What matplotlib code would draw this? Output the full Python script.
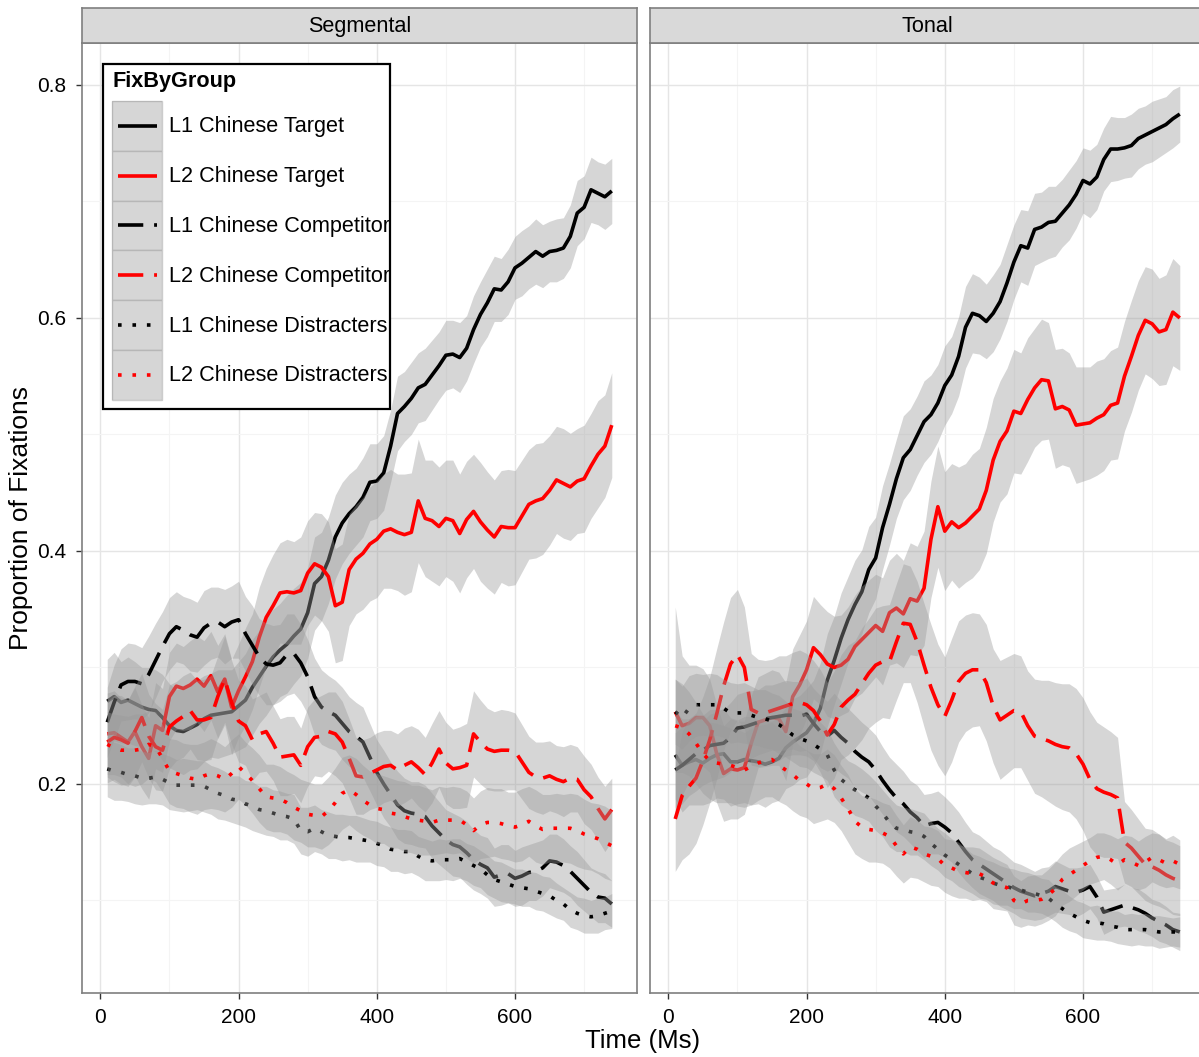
import matplotlib
matplotlib.use("Agg")
import matplotlib.pyplot as plt
from matplotlib.patches import Rectangle
from matplotlib.lines import Line2D
from matplotlib.ticker import FixedLocator

plt.rcParams['font.family'] = ['Liberation Sans', 'DejaVu Sans']

# ---------------------------------------------------------------- data
time_ms = list(range(10, 741, 10))

group_labels = ["L1 Chinese Target", "L2 Chinese Target",
                "L1 Chinese Competitor", "L2 Chinese Competitor",
                "L1 Chinese Distracters", "L2 Chinese Distracters"]
panel_names = ["Segmental", "Tonal"]

# Segmental condition: mean proportion of fixations
seg_l1_target = [.271, .275, .270, .272, .269, .266, .264, .263, .257, .250,
                 .246, .245, .248, .251, .256, .259, .260, .261, .262, .267,
                 .272, .283, .292, .301, .309, .315, .320, .327, .333, .347,
                 .372, .378, .392, .412, .424, .432, .438, .446, .459, .460,
                 .467, .490, .518, .524, .531, .540, .543, .551, .559, .568,
                 .569, .566, .574, .590, .603, .613, .625, .624, .631, .643,
                 .647, .652, .657, .653, .657, .658, .660, .670, .690, .695,
                 .710, .707, .704, .709]
seg_l2_target = [.243, .244, .240, .236, .245, .232, .222, .250, .246, .275,
                 .284, .282, .285, .290, .284, .293, .279, .290, .266, .280,
                 .292, .305, .326, .343, .353, .364, .365, .364, .366, .381,
                 .389, .386, .378, .353, .356, .384, .393, .398, .406, .410,
                 .417, .419, .416, .414, .416, .443, .428, .426, .421, .428,
                 .426, .415, .427, .434, .425, .418, .412, .421, .420, .420,
                 .430, .440, .443, .445, .452, .461, .458, .455, .460, .462,
                 .473, .483, .490, .508]
seg_l1_comp = [.253, .270, .285, .288, .288, .286, .294, .306, .318, .329,
               .335, .332, .328, .326, .334, .338, .339, .335, .339, .341,
               .329, .319, .309, .303, .302, .304, .311, .312, .304, .292,
               .275, .266, .262, .259, .252, .245, .241, .236, .223, .210,
               .200, .191, .182, .177, .175, .174, .172, .164, .158, .152,
               .148, .146, .141, .135, .131, .128, .120, .122, .123, .119,
               .121, .124, .125, .128, .134, .133, .130, .125, .119, .113,
               .107, .103, .102, .097]
seg_l2_comp = [.236, .240, .238, .235, .245, .257, .241, .232, .229, .249,
               .254, .258, .263, .255, .255, .257, .275, .290, .270, .254,
               .250, .238, .243, .245, .235, .223, .224, .225, .216, .232,
               .240, .241, .245, .243, .236, .222, .207, .206, .209, .212,
               .215, .216, .212, .216, .219, .214, .208, .218, .230, .218,
               .213, .214, .216, .243, .236, .230, .228, .229, .229, .228,
               .219, .210, .206, .205, .207, .204, .202, .205, .204, .195,
               .189, .179, .170, .178]
seg_l1_dis = [.213, .211, .210, .208, .207, .205, .205, .206, .204, .201,
              .199, .199, .199, .199, .198, .195, .192, .190, .187, .186,
              .183, .181, .178, .177, .175, .173, .172, .170, .160, .159,
              .162, .159, .156, .155, .154, .154, .153, .152, .151, .149,
              .147, .144, .143, .142, .142, .138, .135, .134, .135, .135,
              .135, .136, .133, .130, .127, .122, .118, .116, .114, .112,
              .111, .110, .108, .106, .104, .100, .097, .092, .089, .087,
              .086, .087, .089, .091]
seg_l2_dis = [.234, .231, .229, .229, .229, .230, .234, .232, .222, .211,
              .209, .207, .205, .204, .207, .209, .207, .204, .209, .215,
              .209, .203, .196, .189, .188, .187, .184, .180, .177, .174,
              .173, .172, .177, .184, .192, .195, .191, .186, .182, .179,
              .178, .175, .174, .172, .170, .169, .168, .167, .169, .169,
              .169, .169, .165, .160, .165, .167, .167, .166, .164, .163,
              .165, .168, .164, .161, .162, .162, .162, .162, .160, .157,
              .155, .153, .150, .147]

# Segmental condition: standard errors
seg_l1_target_se = [.036, .038, .035, .037, .036, .034, .036, .035, .037, .036,
                    .035, .037, .036, .038, .037, .036, .038, .037, .036, .038,
                    .040, .041, .040, .042, .041, .040, .042, .041, .040, .039,
                    .040, .038, .037, .036, .035, .034, .033, .034, .033, .032,
                    .032, .031, .032, .030, .031, .030, .031, .030, .029, .030,
                    .029, .030, .028, .029, .028, .029, .028, .027, .028, .027,
                    .028, .027, .028, .027, .026, .027, .026, .027, .028, .027,
                    .028, .027, .028, .028]
seg_l2_target_se = [.035, .036, .034, .036, .038, .036, .035, .037, .036, .038,
                    .037, .036, .038, .037, .039, .038, .040, .039, .041, .040,
                    .042, .041, .043, .042, .044, .043, .045, .044, .046, .045,
                    .044, .046, .047, .049, .050, .048, .047, .048, .049, .050,
                    .049, .051, .050, .052, .051, .053, .050, .052, .051, .050,
                    .052, .051, .050, .049, .051, .050, .049, .048, .050, .049,
                    .048, .047, .049, .048, .047, .046, .047, .046, .045, .046,
                    .045, .046, .044, .045]
seg_l1_comp_se = [.030, .032, .031, .033, .032, .031, .033, .032, .030, .031,
                  .030, .029, .031, .030, .032, .031, .030, .032, .031, .033,
                  .032, .034, .033, .035, .034, .033, .035, .034, .033, .032,
                  .033, .032, .031, .030, .031, .030, .029, .030, .029, .028,
                  .029, .028, .029, .028, .027, .028, .027, .028, .027, .026,
                  .027, .026, .027, .026, .025, .026, .025, .026, .025, .024,
                  .025, .024, .025, .024, .023, .024, .023, .022, .023, .022,
                  .021, .022, .021, .020]
seg_l2_comp_se = [.035, .036, .038, .037, .039, .038, .036, .037, .035, .036,
                  .034, .035, .033, .034, .035, .036, .035, .037, .036, .035,
                  .034, .035, .033, .034, .032, .033, .034, .033, .032, .034,
                  .033, .035, .034, .036, .035, .034, .033, .032, .031, .032,
                  .031, .030, .031, .032, .031, .033, .032, .034, .033, .035,
                  .034, .035, .036, .037, .036, .035, .034, .035, .034, .033,
                  .032, .031, .030, .031, .030, .029, .030, .029, .028, .029,
                  .028, .027, .028, .027]
seg_l1_dis_se = [.024, .025, .024, .023, .024, .023, .022, .023, .022, .023,
                 .022, .023, .022, .021, .022, .021, .022, .021, .020, .021,
                 .020, .021, .020, .021, .020, .021, .020, .021, .020, .021,
                 .020, .019, .020, .019, .020, .019, .020, .019, .018, .019,
                 .018, .019, .018, .019, .018, .017, .018, .017, .018, .017,
                 .018, .017, .016, .017, .016, .017, .016, .017, .016, .015,
                 .016, .015, .016, .015, .016, .015, .014, .015, .014, .015,
                 .014, .015, .014, .015]
seg_l2_dis_se = [.028, .029, .030, .029, .031, .030, .029, .030, .029, .028,
                 .029, .028, .029, .030, .029, .030, .029, .028, .029, .028,
                 .027, .028, .029, .028, .029, .028, .027, .028, .027, .028,
                 .027, .028, .029, .030, .031, .030, .031, .030, .029, .030,
                 .029, .030, .029, .030, .029, .030, .029, .028, .029, .028,
                 .029, .028, .029, .028, .029, .030, .029, .030, .029, .030,
                 .031, .030, .031, .030, .029, .030, .029, .030, .031, .030,
                 .029, .030, .031, .030]

# Tonal condition: mean proportion of fixations
ton_l1_target = [.225, .216, .219, .221, .218, .222, .225, .226, .219, .219,
                 .221, .220, .219, .217, .219, .222, .231, .236, .240, .244,
                 .252, .265, .289, .306, .325, .341, .354, .365, .384, .394,
                 .420, .440, .462, .480, .487, .499, .511, .517, .527, .542,
                 .551, .567, .592, .604, .602, .597, .604, .614, .630, .648,
                 .662, .660, .676, .678, .682, .683, .690, .697, .706, .718,
                 .715, .721, .736, .745, .745, .746, .748, .754, .757, .760,
                 .763, .766, .771, .775]
ton_l2_target = [.262, .250, .252, .257, .257, .250, .226, .209, .213, .212,
                 .214, .235, .253, .255, .257, .256, .245, .275, .285, .298,
                 .317, .311, .303, .300, .302, .307, .318, .324, .330, .336,
                 .331, .347, .351, .346, .359, .357, .368, .410, .438, .417,
                 .425, .420, .424, .430, .436, .452, .478, .494, .503, .520,
                 .518, .530, .540, .547, .546, .522, .524, .521, .508, .509,
                 .510, .514, .517, .525, .527, .550, .567, .585, .598, .595,
                 .588, .590, .605, .600]
ton_l1_comp = [.212, .216, .221, .226, .229, .233, .234, .235, .240, .248,
               .249, .251, .253, .256, .257, .258, .259, .259, .258, .260,
               .252, .245, .241, .246, .240, .235, .228, .223, .219, .212,
               .203, .195, .188, .183, .176, .171, .164, .166, .167, .163,
               .158, .150, .142, .135, .131, .127, .123, .119, .115, .111,
               .108, .106, .104, .106, .108, .112, .110, .108, .107, .109,
               .112, .103, .090, .092, .094, .096, .094, .092, .089, .085,
               .082, .079, .075, .073]
ton_l2_comp = [.170, .190, .198, .205, .220, .238, .260, .284, .303, .311,
               .300, .264, .261, .261, .263, .265, .267, .269, .270, .268,
               .263, .254, .242, .251, .266, .272, .277, .286, .295, .302,
               .305, .305, .322, .338, .337, .322, .302, .283, .268, .258,
               .272, .288, .295, .298, .298, .287, .267, .255, .259, .263,
               .262, .250, .241, .239, .237, .234, .232, .231, .226, .217,
               .204, .196, .193, .191, .188, .150, .145, .138, .131, .129,
               .126, .122, .119, .117]
ton_l1_dis = [.262, .257, .265, .268, .268, .268, .268, .265, .261, .261,
              .261, .259, .257, .256, .254, .251, .247, .242, .239, .237,
              .234, .230, .225, .212, .204, .199, .195, .192, .188, .181,
              .175, .167, .162, .161, .159, .158, .155, .149, .144, .139,
              .135, .131, .127, .123, .120, .118, .115, .113, .112, .110,
              .109, .107, .106, .104, .102, .097, .093, .089, .086, .083,
              .081, .081, .080, .078, .077, .075, .075, .075, .075, .074,
              .073, .073, .073, .073]
ton_l2_dis = [.250, .248, .243, .235, .226, .220, .218, .217, .216, .214,
              .212, .215, .218, .220, .221, .216, .212, .208, .203, .200,
              .196, .197, .200, .196, .188, .179, .168, .163, .161, .160,
              .158, .155, .147, .140, .146, .144, .140, .138, .136, .130,
              .128, .125, .124, .123, .123, .120, .115, .113, .111, .100,
              .097, .100, .100, .101, .105, .110, .118, .122, .126, .130,
              .134, .137, .138, .135, .131, .135, .133, .130, .133, .137,
              .135, .132, .134, .131]

# Tonal condition: standard errors
ton_l1_target_se = [.038, .040, .037, .039, .036, .038, .037, .039, .038, .036,
                    .037, .038, .036, .037, .035, .036, .035, .037, .036, .038,
                    .037, .039, .040, .038, .039, .037, .038, .036, .037, .035,
                    .036, .035, .034, .036, .035, .034, .035, .034, .033, .034,
                    .033, .034, .035, .034, .033, .032, .033, .032, .033, .032,
                    .031, .032, .031, .030, .031, .030, .029, .030, .029, .028,
                    .029, .028, .027, .028, .027, .026, .027, .026, .025, .026,
                    .025, .024, .025, .024]
ton_l2_target_se = [.090, .060, .050, .045, .042, .040, .042, .041, .043, .042,
                    .040, .041, .039, .040, .041, .040, .042, .041, .043, .042,
                    .044, .043, .045, .044, .043, .045, .044, .046, .045, .044,
                    .046, .045, .047, .046, .048, .047, .049, .050, .052, .051,
                    .050, .052, .051, .053, .052, .054, .053, .052, .054, .053,
                    .052, .053, .051, .052, .050, .051, .050, .049, .050, .049,
                    .048, .049, .048, .047, .048, .047, .048, .047, .046, .047,
                    .046, .047, .046, .045]
ton_l1_comp_se = [.032, .033, .031, .032, .030, .031, .030, .029, .030, .029,
                  .030, .029, .028, .029, .028, .029, .030, .029, .030, .031,
                  .030, .031, .030, .032, .031, .030, .031, .030, .029, .030,
                  .029, .028, .029, .028, .027, .028, .027, .026, .027, .026,
                  .025, .026, .025, .024, .025, .024, .023, .024, .023, .022,
                  .023, .022, .021, .022, .021, .022, .021, .020, .021, .020,
                  .019, .018, .019, .018, .017, .018, .017, .018, .017, .016,
                  .017, .016, .015, .016]
ton_l2_comp_se = [.045, .055, .058, .056, .055, .054, .056, .055, .057, .056,
                  .052, .048, .046, .045, .044, .045, .043, .044, .045, .044,
                  .043, .044, .045, .046, .045, .047, .046, .048, .047, .049,
                  .048, .049, .050, .051, .050, .052, .053, .054, .052, .051,
                  .053, .052, .050, .049, .048, .050, .049, .051, .050, .049,
                  .048, .047, .049, .050, .052, .053, .054, .055, .056, .057,
                  .058, .057, .056, .054, .052, .035, .033, .032, .031, .032,
                  .031, .030, .031, .030]
ton_l1_dis_se = [.028, .027, .028, .027, .026, .027, .026, .025, .026, .025,
                 .026, .025, .024, .025, .024, .025, .024, .023, .024, .023,
                 .024, .023, .022, .023, .022, .021, .022, .021, .020, .021,
                 .020, .021, .020, .019, .020, .019, .020, .019, .018, .019,
                 .018, .019, .018, .017, .018, .017, .018, .017, .016, .017,
                 .016, .017, .016, .015, .016, .015, .016, .015, .014, .015,
                 .014, .015, .014, .013, .014, .013, .014, .013, .014, .013,
                 .014, .013, .012, .013]
ton_l2_dis_se = [.040, .038, .036, .035, .034, .033, .034, .033, .032, .033,
                 .032, .033, .032, .031, .032, .031, .030, .031, .030, .029,
                 .030, .029, .030, .029, .028, .029, .028, .027, .028, .027,
                 .026, .027, .026, .025, .026, .025, .024, .025, .024, .023,
                 .024, .023, .022, .023, .022, .021, .022, .021, .020, .021,
                 .020, .021, .022, .021, .022, .023, .022, .023, .022, .021,
                 .020, .021, .020, .021, .022, .021, .022, .021, .022, .021,
                 .022, .021, .022, .021]

x_ticks = [0, 200, 400, 600]
y_ticks = [0.2, 0.4, 0.6, 0.8]

# ---------------------------------------------------------------- styling
RED = "#FF0000"
BLACK = "#000000"
LONGDASH = (0, (7, 3))
DOTTED = (0, (1, 3))
group_styles = [(BLACK, "-"), (RED, "-"),
                (BLACK, LONGDASH), (RED, LONGDASH),
                (BLACK, DOTTED), (RED, DOTTED)]
RIBBON = "#999999"
RIBBON_ALPHA = 0.4
LW = 2.6

panel_series = {
    "Segmental": [(seg_l1_target, seg_l1_target_se), (seg_l2_target, seg_l2_target_se),
                  (seg_l1_comp, seg_l1_comp_se), (seg_l2_comp, seg_l2_comp_se),
                  (seg_l1_dis, seg_l1_dis_se), (seg_l2_dis, seg_l2_dis_se)],
    "Tonal": [(ton_l1_target, ton_l1_target_se), (ton_l2_target, ton_l2_target_se),
              (ton_l1_comp, ton_l1_comp_se), (ton_l2_comp, ton_l2_comp_se),
              (ton_l1_dis, ton_l1_dis_se), (ton_l2_dis, ton_l2_dis_se)],
}

W, H = 1199, 1057
fig = plt.figure(figsize=(W / 100, H / 100), dpi=100)
fig.patch.set_facecolor("white")


def fx(x):
    return x / W


def fy(y):
    return 1 - y / H


PANEL_TOP, PANEL_BOT, STRIP_TOP = 43, 993, 8
PANEL_W = 555
panel_left = [82, 650]

for k, name in enumerate(panel_names):
    x0 = panel_left[k]
    ax = fig.add_axes([fx(x0), fy(PANEL_BOT), PANEL_W / W, (PANEL_BOT - PANEL_TOP) / H])
    ax.set_xlim(-26.5, 776.5)
    ax.set_ylim(0.0206, 0.836)

    ax.xaxis.set_major_locator(FixedLocator(x_ticks))
    ax.xaxis.set_minor_locator(FixedLocator([100, 300, 500, 700]))
    ax.yaxis.set_major_locator(FixedLocator(y_ticks))
    ax.yaxis.set_minor_locator(FixedLocator([0.1, 0.3, 0.5, 0.7]))
    ax.grid(True, which="major", color="#E5E5E5", lw=1.0, zorder=0)
    ax.grid(True, which="minor", color="#F4F4F4", lw=0.8, zorder=0)
    ax.set_axisbelow(True)

    for sp in ax.spines.values():
        sp.set_color("#7F7F7F")
        sp.set_linewidth(1.2)
        sp.set_zorder(20)

    ax.tick_params(axis="both", which="major", length=4.5, width=1.0,
                   color="#333333", labelsize=15, labelcolor="black")
    ax.tick_params(axis="x", which="major", pad=6.5)
    ax.tick_params(axis="y", which="major", pad=7)
    ax.tick_params(which="minor", length=0)
    ax.set_xticklabels([str(v) for v in x_ticks])
    if k == 0:
        ax.set_yticklabels(["%.1f" % v for v in y_ticks])
    else:
        ax.tick_params(axis="y", which="major", length=0, labelleft=False)

    # each group: its standard-error ribbon, then its mean line on top
    series = panel_series[name]
    for g, ((mean, se), (col, ls)) in enumerate(zip(series, group_styles)):
        lo = [m - s for m, s in zip(mean, se)]
        hi = [m + s for m, s in zip(mean, se)]
        ax.fill_between(time_ms, lo, hi, color=RIBBON, alpha=RIBBON_ALPHA,
                        lw=0, zorder=2 + 2 * g)
        ax.plot(time_ms, mean, color=col, lw=LW, linestyle=ls,
                dash_capstyle="butt", solid_capstyle="butt",
                solid_joinstyle="round", dash_joinstyle="round",
                zorder=3 + 2 * g)

    # facet strip
    sax = fig.add_axes([fx(x0), fy(PANEL_TOP), PANEL_W / W, (PANEL_TOP - STRIP_TOP) / H])
    sax.set_facecolor("#D9D9D9")
    sax.set_xticks([])
    sax.set_yticks([])
    for sp in sax.spines.values():
        sp.set_color("#7F7F7F")
        sp.set_linewidth(1.2)
    sax.text(0.5, 0.48, name, ha="center", va="center", fontsize=15.6,
             color="black", transform=sax.transAxes)

# axis titles
fig.text(fx(643), fy(1041), "Time (Ms)", ha="center", va="center", fontsize=18.5)
fig.text(fx(21), fy(518), "Proportion of Fixations", ha="center", va="center",
         rotation=90, fontsize=19)

# legend
LX0, LY0, LX1, LY1 = 103, 64, 390, 409
box = Rectangle((fx(LX0), fy(LY1)), (LX1 - LX0) / W, (LY1 - LY0) / H,
                transform=fig.transFigure, facecolor="white", edgecolor="black",
                lw=1.6, zorder=5)
fig.add_artist(box)
fig.text(fx(113), fy(82), "FixByGroup", ha="left", va="center", fontsize=15.6,
         fontweight="bold", zorder=9)
KEY_X0, KEY_W, KEY_TOP, KEY_H = 112, 50, 101, 49.8
for i, (lab, (col, ls)) in enumerate(zip(group_labels, group_styles)):
    top = KEY_TOP + i * KEY_H
    cy = top + KEY_H / 2
    key = Rectangle((fx(KEY_X0), fy(top + KEY_H)), KEY_W / W, KEY_H / H,
                    transform=fig.transFigure, facecolor="white",
                    edgecolor="#CCCCCC", lw=1.0, zorder=6)
    fig.add_artist(key)
    shade = Rectangle((fx(KEY_X0), fy(top + KEY_H)), KEY_W / W, KEY_H / H,
                      transform=fig.transFigure, facecolor=RIBBON,
                      alpha=RIBBON_ALPHA, lw=0, zorder=7)
    fig.add_artist(shade)
    ln = Line2D([fx(KEY_X0 + 6), fx(KEY_X0 + KEY_W - 5)], [fy(cy), fy(cy)],
                transform=fig.transFigure, color=col, lw=LW, linestyle=ls,
                dash_capstyle="butt", solid_capstyle="butt", zorder=8)
    fig.add_artist(ln)
    t = fig.text(fx(169), fy(cy + 1), lab, ha="left", va="center",
                 fontsize=15.6, zorder=9)
    t.set_clip_path(box)

fig.savefig("out.png", dpi=100)
